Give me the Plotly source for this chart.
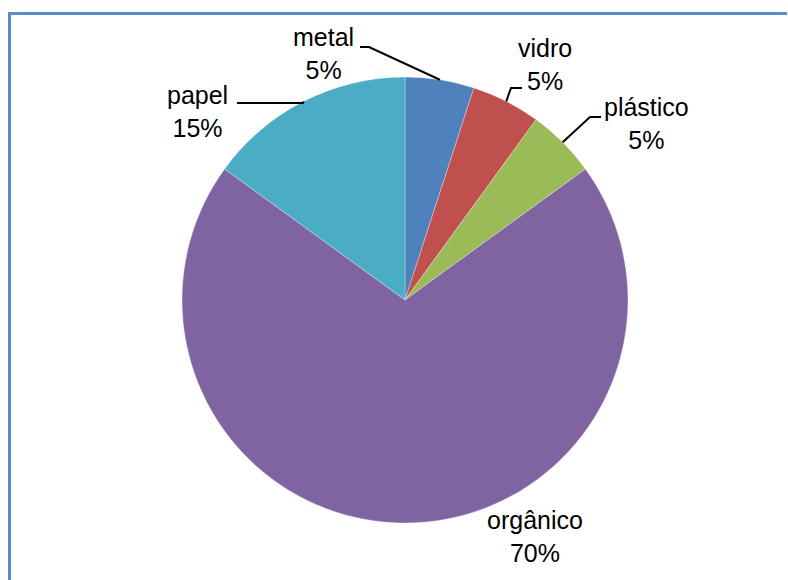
import math
import plotly.graph_objects as go

# Composição dos resíduos (percentual)
categories = ["metal", "vidro", "plástico", "orgânico", "papel"]
values = [5, 5, 5, 70, 15]
colors = ["#4F81BD", "#C0504D", "#9BBB59", "#8064A2", "#4BACC6"]

W, H = 788, 580
CX, CY, R = 405, 300, 223  # pie centre and radius in pixels

# label block centres and leader-line elbow/end points (pixels)
label_pos = {
    "metal": (323, 54),
    "vidro": (545, 64),
    "plástico": (646, 124),
    "orgânico": (535, 536),
    "papel": (197, 112),
}
leaders = {
    "metal": [(369, 47), (360, 47)],
    "vidro": [(511, 88), (522, 88)],
    "plástico": [(590, 117), (601, 117)],
    "papel": [(303, 103), (237, 103)],
}


def px(x):
    return x / W


def py(y):
    return 1 - y / H


fig = go.Figure(
    go.Pie(
        labels=categories,
        values=values,
        sort=False,
        direction="clockwise",
        rotation=0,
        marker=dict(colors=colors, line=dict(color="rgba(255,255,255,0.5)", width=0.6)),
        textinfo="none",
        hoverinfo="label+percent",
        showlegend=False,
        domain=dict(x=[px(CX - R), px(CX + R)], y=[py(CY + R), py(CY - R)]),
    )
)

total = sum(values)
shapes = []
annotations = []
cum = 0
for name, v in zip(categories, values):
    mid = (cum + v / 2) / total * 2 * math.pi
    cum += v
    ex = CX + R * math.sin(mid)
    ey = CY - R * math.cos(mid)
    if name in leaders:
        pts = [(ex, ey)] + leaders[name]
        path = "M " + " L ".join(f"{px(x)},{py(y)}" for x, y in pts)
        shapes.append(dict(type="path", xref="paper", yref="paper", path=path,
                           line=dict(color="black", width=2)))
    lx, ly = label_pos[name]
    annotations.append(dict(
        x=px(lx), y=py(ly), xref="paper", yref="paper",
        text=f"{name}<br>{round(v / total * 100)}%",
        showarrow=False, xanchor="center", yanchor="middle", align="center",
        font=dict(family="Liberation Sans, Arial, sans-serif", size=25, color="black"),
    ))

# outer chart frame (bottom edge runs past the page)
shapes.append(dict(type="path", xref="paper", yref="paper",
                   path=f"M {px(9.5)},{py(600)} L {px(9.5)},{py(13.5)} L {px(787)},{py(13.5)}",
                   line=dict(color="#5A8AC8", width=3)))

fig.update_layout(
    width=W, height=H, autosize=False,
    margin=dict(l=0, r=0, t=0, b=0),
    paper_bgcolor="white", plot_bgcolor="white",
    shapes=shapes, annotations=annotations,
)

fig.write_html("out.html")
